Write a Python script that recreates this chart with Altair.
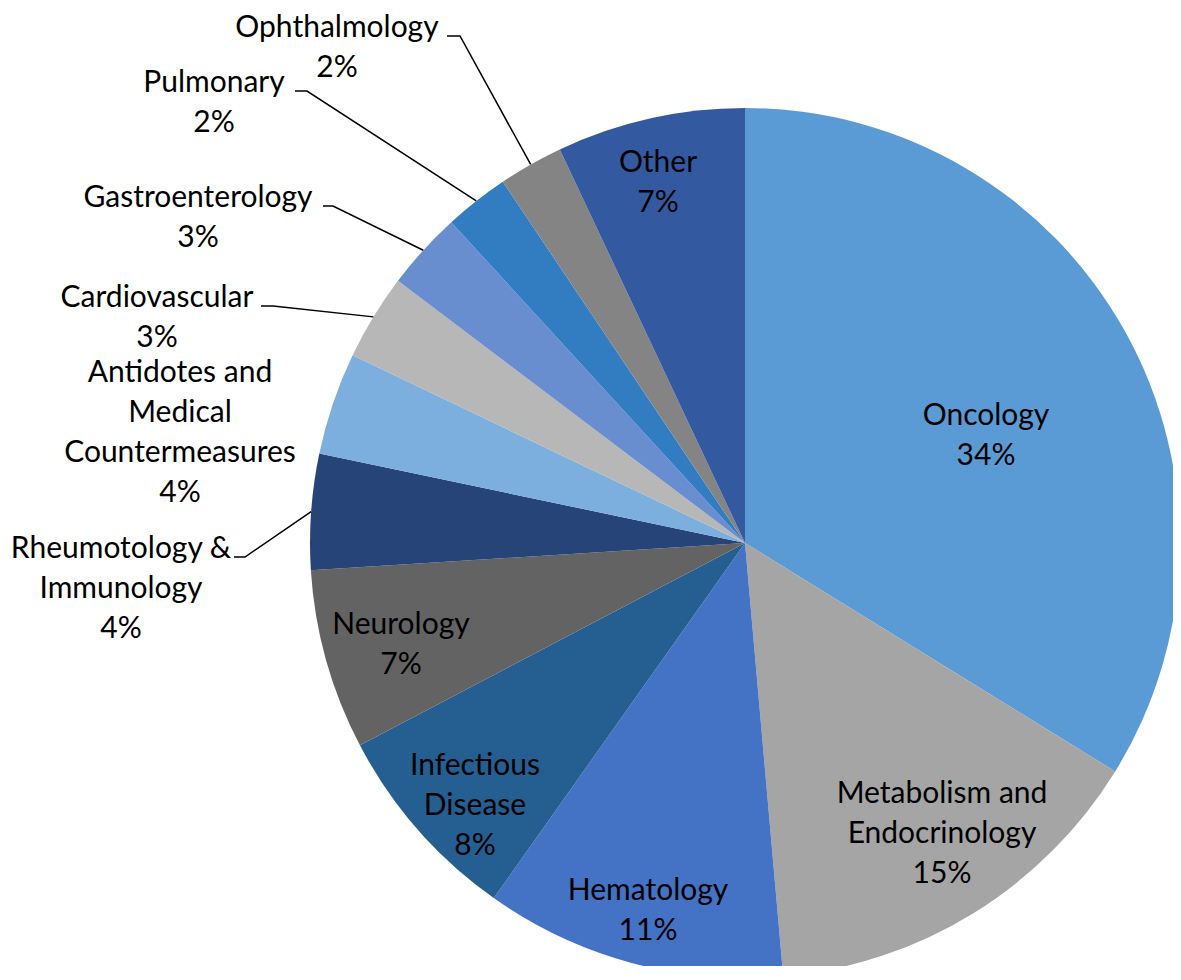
import math
import altair as alt
import pandas as pd

# ---------------- data ----------------
categories = [
    "Oncology", "Metabolism and Endocrinology", "Hematology", "Infectious Disease",
    "Neurology", "Rheumotology & Immunology", "Antidotes and Medical Countermeasures",
    "Cardiovascular", "Gastroenterology", "Pulmonary", "Ophthalmology", "Other",
]
shares = [33.8, 14.8, 11.2, 7.5, 6.7, 4.3, 3.8, 3.2, 2.9, 2.4, 2.4, 7.0]
pct_labels = ["34%", "15%", "11%", "8%", "7%", "4%", "4%", "3%", "3%", "2%", "2%", "7%"]
label_names = [
    "Oncology", "Metabolism and\nEndocrinology", "Hematology", "Infectious\nDisease",
    "Neurology", "Rheumotology &\nImmunology", "Antidotes and\nMedical\nCountermeasures",
    "Cardiovascular", "Gastroenterology", "Pulmonary", "Ophthalmology", "Other",
]
colors = [
    "#5B9BD5", "#A5A5A5", "#4472C4", "#255E91", "#636363", "#264478",
    "#7CAFDD", "#B7B7B7", "#698ED0", "#327DC2", "#848484", "#335AA1",
]

# ---------------- layout ----------------
W, H = 1165, 958
CX, CY, R = 737, 535, 435
FONT = "Lato"
FS = 30
LH = 40
# label anchor: (center x, first-line baseline y) in chart pixels
label_anchor = {
    "Oncology": (978, 417),
    "Metabolism and Endocrinology": (934, 795),
    "Hematology": (640, 892),
    "Infectious Disease": (467, 767),
    "Neurology": (393, 626),
    "Rheumotology & Immunology": (113, 550),
    "Antidotes and Medical Countermeasures": (172, 374),
    "Cardiovascular": (149, 299),
    "Gastroenterology": (190, 199),
    "Pulmonary": (206, 84),
    "Ophthalmology": (329, 29),
    "Other": (650, 164),
}
# leader lines: (start x, elbow x) for outside labels; y = label baseline
leader = {
    "Rheumotology & Immunology": (226, 237),
    "Cardiovascular": (253, 265),
    "Gastroenterology": (315, 325),
    "Pulmonary": (287, 299),
    "Ophthalmology": (439, 452),
}

pie_df = pd.DataFrame({
    "category": categories,
    "share": shares,
    "idx": list(range(len(categories))),
})

lab_rows = []
for c, nm, p in zip(categories, label_names, pct_labels):
    x, y = label_anchor[c]
    lab_rows.append({"category": c, "label": nm + "\n" + p, "x": x, "y": y})
lab_df = pd.DataFrame(lab_rows)

line_rows = []
cum = 0.0
total = sum(shares)
for c, s in zip(categories, shares):
    mid = (cum + s / 2) / total * 2 * math.pi
    cum += s
    if c in leader:
        x0, x1 = leader[c]
        yb = label_anchor[c][1] - 1
        ex = CX + R * math.sin(mid)
        ey = CY - R * math.cos(mid)
        line_rows += [
            {"category": c, "seq": 0, "x": x0, "y": yb},
            {"category": c, "seq": 1, "x": x1, "y": yb},
            {"category": c, "seq": 2, "x": ex, "y": ey},
        ]
line_df = pd.DataFrame(line_rows)

xs = alt.Scale(domain=[0, W], range=[0, W], nice=False, zero=False)
ys = alt.Scale(domain=[0, H], range=[0, H], nice=False, zero=False)

arc = alt.Chart(pie_df).mark_arc(radius=R, strokeWidth=0).encode(
    theta=alt.Theta("share:Q", stack=True),
    color=alt.Color("category:N", scale=alt.Scale(domain=categories, range=colors), legend=None),
    order=alt.Order("idx:Q"),
    x=alt.value(CX),
    y=alt.value(CY),
)

lines = alt.Chart(line_df).mark_line(color="black", strokeWidth=1.5).encode(
    x=alt.X("x:Q", scale=xs, axis=None),
    y=alt.Y("y:Q", scale=ys, axis=None),
    detail="category:N",
    order="seq:Q",
)

text = alt.Chart(lab_df).mark_text(
    align="center", baseline="alphabetic", lineBreak="\n", lineHeight=LH,
    font=FONT, fontSize=FS, color="black",
).encode(
    x=alt.X("x:Q", scale=xs, axis=None),
    y=alt.Y("y:Q", scale=ys, axis=None),
    text="label:N",
)

chart = alt.layer(arc, lines, text).properties(
    width=W, height=H, autosize="none", padding=0
).configure_view(stroke=None)

chart.save("out.html", embed_options={"renderer": "svg", "actions": False})
